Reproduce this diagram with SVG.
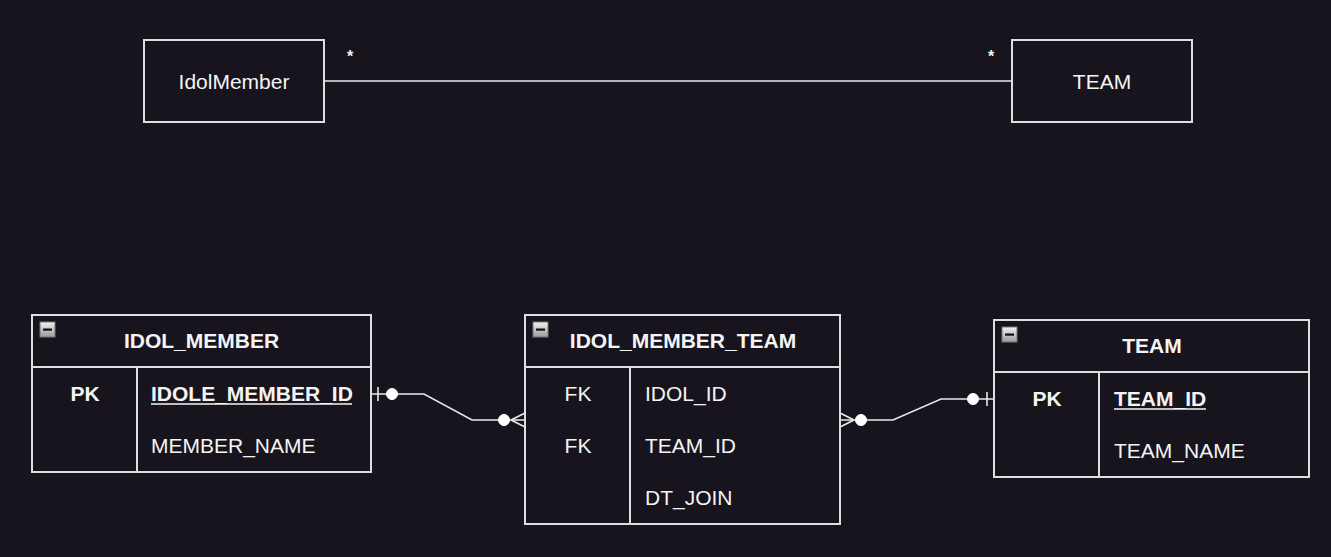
<svg xmlns="http://www.w3.org/2000/svg" width="1331" height="557" viewBox="0 0 1331 557">
<defs>
<linearGradient id="g" x1="0" y1="0" x2="0" y2="1"><stop offset="0" stop-color="#f2f2f2"/><stop offset="1" stop-color="#9a9a9a"/></linearGradient>
<g id="tog"><rect x="0" y="0" width="15" height="15" fill="url(#g)" stroke="#777" stroke-width="1"/><rect x="3" y="6.5" width="9" height="2.2" fill="#111"/></g>
</defs>
<style>
.box{fill:#18141d;stroke:#dedede;stroke-width:2}
.ln{stroke:#dedede;stroke-width:2;fill:none}
.c{stroke:#e8e8e8;stroke-width:1.6;fill:none}
.dot{fill:#ffffff;stroke:#ffffff}
text{font-family:"Liberation Sans",Arial,sans-serif;font-size:21px;fill:#f4f4f4}
.b{font-weight:bold}
.m{text-anchor:middle}
.s{font-size:16px;font-weight:bold}
</style>
<rect width="1331" height="557" fill="#18141d"/>

<g id="conn">
<line class="c" x1="324" y1="81" x2="1012" y2="81"/>
<text class="s m" x="350" y="62">*</text>
<text class="s m" x="991" y="62">*</text>

<polyline class="c" points="371,394 424,394 472,420 525,420"/>
<line class="c" x1="378" y1="387" x2="378" y2="401"/>
<circle class="dot" cx="392" cy="394" r="5.5"/>
<circle class="dot" cx="504" cy="420" r="5.5"/>
<line class="c" x1="511" y1="420" x2="525" y2="413"/>
<line class="c" x1="511" y1="420" x2="525" y2="427"/>

<polyline class="c" points="840,420 893,420 941,399 994,399"/>
<line class="c" x1="854" y1="420" x2="840" y2="413"/>
<line class="c" x1="854" y1="420" x2="840" y2="427"/>
<circle class="dot" cx="861" cy="420" r="5.5"/>
<circle class="dot" cx="973" cy="399" r="5.5"/>
<line class="c" x1="987" y1="392" x2="987" y2="406"/>
</g>

<g id="IdolMember">
<rect class="box" x="144" y="40" width="180" height="82"/>
<text class="m" x="234" y="88.5">IdolMember</text>
</g>

<g id="TEAM_class">
<rect class="box" x="1012" y="40" width="180" height="82"/>
<text class="m" x="1102" y="88.5">TEAM</text>
</g>

<g id="IDOL_MEMBER">
<rect class="box" x="32" y="315" width="339" height="157"/>
<line class="ln" x1="32" y1="367" x2="371" y2="367"/>
<line class="ln" x1="137" y1="367" x2="137" y2="472"/>
<use href="#tog" x="40" y="322"/>
<text class="b m" x="201.5" y="348">IDOL_MEMBER</text>
<text class="b m" x="85" y="401">PK</text>
<text class="b" x="151" y="401">IDOLE_MEMBER_ID</text>
<line x1="151" y1="404" x2="352" y2="404" stroke="#f4f4f4" stroke-width="1.6"/>
<text x="151" y="452.5">MEMBER_NAME</text>
</g>

<g id="IDOL_MEMBER_TEAM">
<rect class="box" x="525" y="315" width="315" height="209"/>
<line class="ln" x1="525" y1="367" x2="840" y2="367"/>
<line class="ln" x1="630" y1="367" x2="630" y2="524"/>
<use href="#tog" x="533" y="322"/>
<text class="b m" x="683" y="348">IDOL_MEMBER_TEAM</text>
<text class="m" x="578" y="401">FK</text>
<text x="645" y="401">IDOL_ID</text>
<text class="m" x="578" y="452.5">FK</text>
<text x="645" y="452.5">TEAM_ID</text>
<text x="645" y="504.5">DT_JOIN</text>
</g>

<g id="TEAM">
<rect class="box" x="994" y="320" width="315" height="157"/>
<line class="ln" x1="994" y1="372" x2="1309" y2="372"/>
<line class="ln" x1="1099" y1="372" x2="1099" y2="477"/>
<use href="#tog" x="1002" y="327"/>
<text class="b m" x="1152" y="353">TEAM</text>
<text class="b m" x="1047" y="406">PK</text>
<text class="b" x="1114" y="406">TEAM_ID</text>
<line x1="1114" y1="409" x2="1206" y2="409" stroke="#f4f4f4" stroke-width="1.6"/>
<text x="1114" y="457.5">TEAM_NAME</text>
</g>
</svg>
